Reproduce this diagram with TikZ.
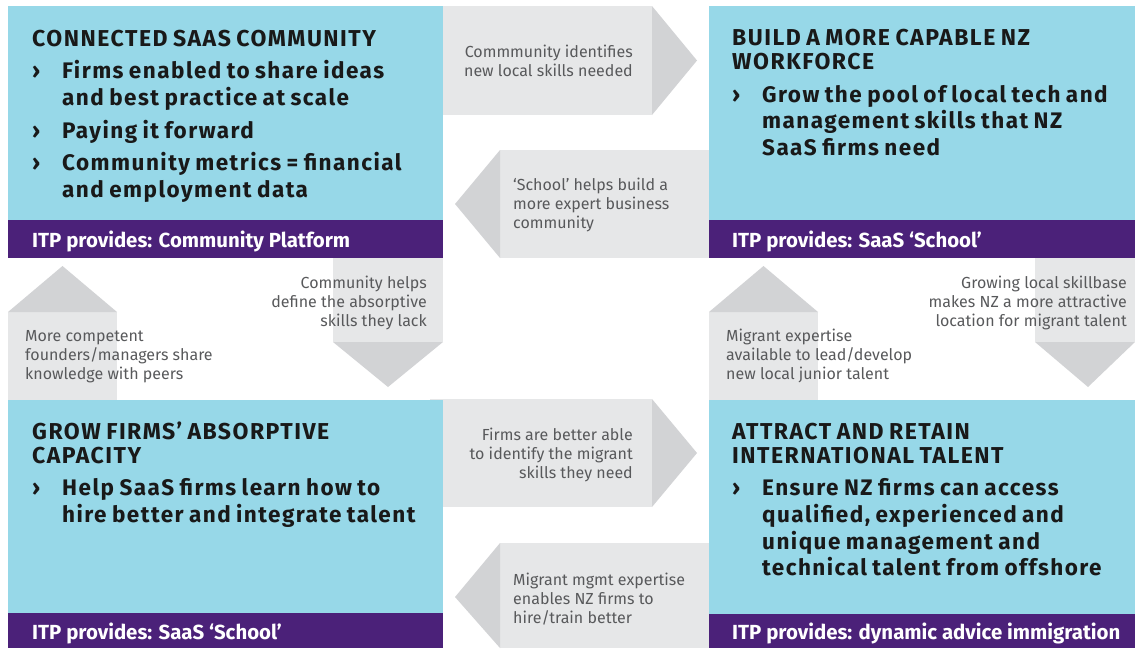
\documentclass[tikz,border=0pt]{standalone}
\usepackage{fontspec}
\setmainfont{Fira Sans}
\newfontfamily\widefira{Fira Sans}[LetterSpace=6.5]
\usepackage{tikz}
\definecolor{boxblue}{RGB}{151,216,232}
\definecolor{bandpurple}{RGB}{75,33,121}
\definecolor{shaftgray}{RGB}{230,231,232}
\definecolor{tipgray}{RGB}{210,211,213}
\definecolor{notegray}{RGB}{88,89,91}
\newcommand{\headf}{\fontsize{23}{24}\selectfont\spaceskip=0.24em\relax}
\newcommand{\pnt}[1]{\par\fontsize{22.5}{26.7}\selectfont\spaceskip=0.24em\relax\hangindent=30pt\hangafter=1\noindent\makebox[30pt][l]{›}#1\par}

\begin{document}
\begin{tikzpicture}[x=1pt,y=-1pt,
    panel/.style={fill=boxblue},
    band/.style={fill=bandpurple},
    shaftfill/.style={fill=shaftgray},
    tipfill/.style={fill=tipgray},
    boxbody/.style={anchor=base west,inner sep=0pt,text width=420pt,align=left,text=black!90,font=\widefira\bfseries},
    bandtext/.style={anchor=base west,inner sep=0pt,text=white,font=\bfseries\fontsize{20.4}{24}\selectfont},
    note/.style={inner sep=0pt,text=notegray,font=\fontsize{16}{18.6}\selectfont},
    noteleft/.style={note,anchor=base west,align=left},
    noteright/.style={note,anchor=base east,align=right}]
            \useasboundingbox (0,0) rectangle (1135,648);

            \fill[shaftfill] (430,6) rectangle (652,115);
            \fill[tipfill] (652,6) -- (697,60.5) -- (652,115) -- cycle;
            \fill[shaftfill] (500,150) rectangle (720,258);
            \fill[tipfill] (500,150) -- (455,204) -- (500,258) -- cycle;
            \fill[shaftfill] (8,312) rectangle (117,410);
            \fill[tipfill] (8,312) -- (62.5,266) -- (117,312) -- cycle;
            \fill[shaftfill] (333,250) rectangle (443,342);
            \fill[tipfill] (333,342) -- (388,387) -- (443,342) -- cycle;
            \fill[shaftfill] (709,312) rectangle (818,410);
            \fill[tipfill] (709,312) -- (763.5,266) -- (818,312) -- cycle;
            \fill[shaftfill] (1035,250) rectangle (1135,342);
            \fill[tipfill] (1035,342) -- (1088,387) -- (1135,342) -- cycle;
            \fill[shaftfill] (430,399) rectangle (652,507);
            \fill[tipfill] (652,399) -- (697,453) -- (652,507) -- cycle;
            \fill[shaftfill] (500,543) rectangle (720,648);
            \fill[tipfill] (500,543) -- (455,597) -- (500,648) -- cycle;

            \fill[panel] (8,6) rectangle (443,220);
            \fill[band] (8,220) rectangle (443,258);
            \fill[panel] (709,6) rectangle (1135,220);
            \fill[band] (709,220) rectangle (1135,258);
            \fill[panel] (8,400) rectangle (443,613);
            \fill[band] (8,613) rectangle (443,648);
            \fill[panel] (709,400) rectangle (1135,614);
            \fill[band] (709,614) rectangle (1135,648);

            \node[boxbody] (community) at (32,46) {\setlength{\parskip}{6pt}\headf CONNECTED SAAS COMMUNITY
                \pnt{Firms enabled to share ideas\newline and best practice at scale}
                \pnt{Paying it forward}
                \pnt{Community metrics = financial\newline and employment data}};
            \node[boxbody] (workforce) at (732,45.5) {\setlength{\parskip}{6pt}\headf BUILD A MORE CAPABLE NZ\newline WORKFORCE
                \pnt{Grow the pool of local tech and\newline management skills that NZ\newline SaaS firms need}};
            \node[boxbody] (absorptive) at (32,439) {\setlength{\parskip}{6pt}\headf GROW FIRMS’ ABSORPTIVE\newline CAPACITY
                \pnt{Help SaaS firms learn how to\newline hire better and integrate talent}};
            \node[boxbody] (talent) at (732,439) {\setlength{\parskip}{6pt}\headf ATTRACT AND RETAIN\newline INTERNATIONAL TALENT
                \pnt{Ensure NZ firms can access\newline qualified, experienced and\newline unique management and\newline technical talent from offshore}};

            \node[bandtext] (platform) at (32,247) {ITP provides: Community Platform};
            \node[bandtext] (school1) at (732,247) {ITP provides: SaaS ‘School’};
            \node[bandtext] (school2) at (32,639) {ITP provides: SaaS ‘School’};
            \node[bandtext] (advice) at (732,639) {ITP provides: dynamic advice immigration};

            \node[noteright] (identifies) at (633,76) {Commmunity identifies\\new local skills needed};
            \node[noteleft] (builds) at (513,228) {‘School’ helps build a\\more expert business\\community};
            \node[noteleft] (peers) at (25,379) {More competent\\founders/managers share\\knowledge with peers};
            \node[noteright] (defines) at (427,326) {Community helps\\define the absorptive\\skills they lack};
            \node[noteleft] (expertise) at (726,379) {Migrant expertise\\available to lead/develop\\new local junior talent};
            \node[noteright] (skillbase) at (1127,326) {Growing local skillbase\\makes NZ a more attractive\\location for migrant talent};
            \node[noteright] (migrant) at (633,478) {Firms are better able\\to identify the migrant\\skills they need};
            \node[noteleft] (mgmt) at (513,623) {Migrant mgmt expertise\\enables NZ firms to\\hire/train better};
        \end{tikzpicture}
\end{document}
